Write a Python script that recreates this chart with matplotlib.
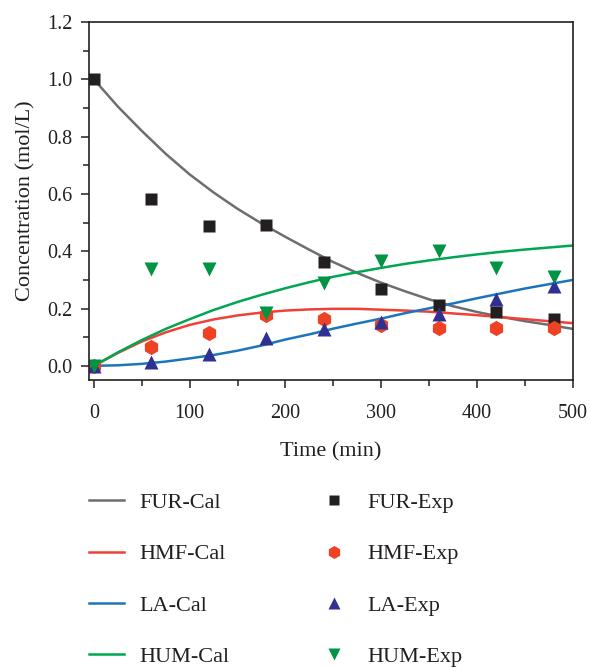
import matplotlib
matplotlib.use("Agg")
import matplotlib.pyplot as plt
from matplotlib.ticker import MultipleLocator

plt.rcParams['font.family'] = ['Liberation Serif', 'DejaVu Serif']

# Experimental data
t_exp = [0, 60, 120, 180, 240, 300, 360, 420, 480]
fur_exp = [1.0, 0.583, 0.487, 0.490, 0.362, 0.267, 0.211, 0.189, 0.164]
hmf_exp = [0.0, 0.067, 0.114, 0.178, 0.163, 0.143, 0.131, 0.133, 0.132]
la_exp = [0.0, 0.012, 0.041, 0.097, 0.129, 0.152, 0.180, 0.232, 0.279]
hum_exp = [0.0, 0.337, 0.338, 0.184, 0.288, 0.366, 0.402, 0.343, 0.311]

# Calculated (model) curves
t_cal = [0, 25, 50, 75, 100, 125, 150, 175, 200, 225, 250, 275, 300,
         325, 350, 375, 400, 425, 450, 475, 500]
fur_cal = [1.0, 0.905, 0.820, 0.740, 0.668, 0.605, 0.548, 0.497, 0.450, 0.405,
           0.362, 0.324, 0.290, 0.260, 0.232, 0.208, 0.188, 0.171, 0.156, 0.143, 0.129]
hmf_cal = [0.0, 0.045, 0.085, 0.117, 0.143, 0.162, 0.176, 0.186, 0.193, 0.197,
           0.199, 0.199, 0.196, 0.193, 0.189, 0.183, 0.177, 0.170, 0.163, 0.156, 0.149]
la_cal = [0.0, 0.002, 0.007, 0.015, 0.026, 0.038, 0.053, 0.071, 0.092, 0.110,
          0.130, 0.148, 0.165, 0.184, 0.201, 0.218, 0.236, 0.253, 0.270, 0.285, 0.300]
hum_cal = [0.0, 0.047, 0.090, 0.129, 0.163, 0.195, 0.223, 0.248, 0.271, 0.292,
           0.311, 0.327, 0.342, 0.356, 0.368, 0.379, 0.389, 0.398, 0.406, 0.413, 0.420]

c_fur_line, c_hmf_line, c_la_line, c_hum_line = '#6d6e71', '#ef4136', '#1c75bc', '#00a651'
c_fur_mk, c_hmf_mk, c_la_mk, c_hum_mk = '#231f20', '#ef4123', '#2e3192', '#009444'

fig = plt.figure(figsize=(5.9, 6.67), dpi=100)
ax = fig.add_axes([0.151, 0.430, 0.820, 0.537])

lw = 1.8
h1, = ax.plot(t_cal, fur_cal, color=c_fur_line, lw=lw, label='FUR-Cal')
h2, = ax.plot(t_cal, hmf_cal, color=c_hmf_line, lw=lw, label='HMF-Cal')
h3, = ax.plot(t_cal, la_cal, color=c_la_line, lw=lw, label='LA-Cal')
h4, = ax.plot(t_cal, hum_cal, color=c_hum_line, lw=lw, label='HUM-Cal')

h5, = ax.plot(t_exp, fur_exp, 's', color=c_fur_mk, ms=8, mec='none', label='FUR-Exp')
h6, = ax.plot(t_exp, hmf_exp, 'h', color=c_hmf_mk, ms=11, mec='none', label='HMF-Exp')
h7, = ax.plot(t_exp, la_exp, '^', color=c_la_mk, ms=10, mec='none', label='LA-Exp')
h8, = ax.plot(t_exp, hum_exp, 'v', color=c_hum_mk, ms=10, mec='none', label='HUM-Exp')

ax.set_xlim(-5, 500)
ax.set_ylim(-0.05, 1.2)
ax.xaxis.set_major_locator(MultipleLocator(100))
ax.xaxis.set_minor_locator(MultipleLocator(50))
ax.yaxis.set_major_locator(MultipleLocator(0.2))
ax.yaxis.set_minor_locator(MultipleLocator(0.1))
ax.yaxis.set_major_formatter(matplotlib.ticker.FormatStrFormatter('%.1f'))

spine_c = '#231f20'
for s in ax.spines.values():
    s.set_color(spine_c)
    s.set_linewidth(1.2)
ax.tick_params(which='both', direction='out', colors=spine_c, labelcolor='#231f20',
               top=False, right=False, width=1.1)
ax.tick_params(which='major', length=6, labelsize=14.5, pad=6)
ax.tick_params(axis='x', which='major', pad=11)
ax.tick_params(which='minor', length=4)

ax.set_xlabel('Time (min)', fontsize=16, color='#231f20', labelpad=14)
ax.set_ylabel('Concentration (mol/L)', fontsize=16, color='#231f20', labelpad=8)

leg = fig.legend(handles=[h1, h2, h3, h4, h5, h6, h7, h8], ncol=2,
                 loc='upper left', bbox_to_anchor=(0.1315, 0.2785), frameon=False,
                 fontsize=16, handlelength=1.6, handletextpad=0.7,
                 columnspacing=3.9, labelspacing=1.39, borderpad=0,
                 markerscale=0.85)
for txt in leg.get_texts():
    txt.set_color('#231f20')

fig.savefig('out.png', dpi=100)
